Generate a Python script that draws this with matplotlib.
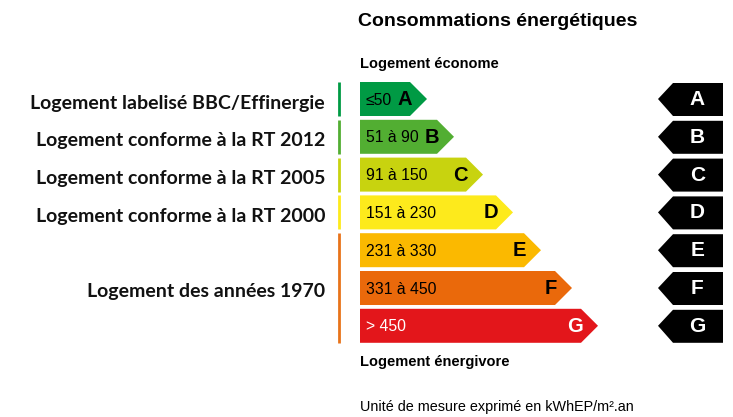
import numpy as np
from matplotlib import pyplot as plt
from matplotlib.patches import Polygon

# classes energetiques
classes = ["A", "B", "C", "D", "E", "F", "G"]
ranges = ["≤50", "51 à 90", "91 à 150", "151 à 230", "231 à 330", "331 à 450", "> 450"]
bar_len = [67, 94, 123, 153, 181, 212, 238]   # longueur des fleches (px)
colors = ["#009a44", "#52ae32", "#c8d30f", "#fdea1c", "#fbb900", "#ea690b", "#e3161b"]
text_colors = ["black"] * 6 + ["white"]

# labels a gauche : (texte, classe debut, classe fin)
groups = ["Logement labelisé BBC/Effinergie", "Logement conforme à la RT 2012",
          "Logement conforme à la RT 2005", "Logement conforme à la RT 2000",
          "Logement des années 1970"]
group_start = [0, 1, 2, 3, 4]
group_end = [0, 1, 2, 3, 6]
group_colors = ["#009a44", "#52ae32", "#c8d30f", "#fdea1c", "#e8731a"]

W, H = 733, 417
fig = plt.figure(figsize=(W / 100, H / 100), dpi=100)
ax = fig.add_axes([0, 0, 1, 1])
ax.set_xlim(0, W)
ax.set_ylim(H, 0)
ax.axis("off")

x0 = 360
top0 = 82
pitch = 37.8
bh = 34
tip = 17

for i, c in enumerate(classes):
    top = top0 + i * pitch
    bot = top + bh
    mid = (top + bot) / 2
    end = x0 + bar_len[i]
    poly = Polygon([(x0, top), (end - tip, top), (end, mid), (end - tip, bot), (x0, bot)],
                   closed=True, facecolor=colors[i], edgecolor="none")
    ax.add_patch(poly)
    ax.text(x0 + 6, mid + 1, ranges[i], fontsize=11.3, color=text_colors[i],
            family="Liberation Sans", va="center", ha="left")
    ax.text(end - tip + 2, mid + 0.5, c, fontsize=14.5, fontweight="bold", color=text_colors[i],
            family="Liberation Sans", va="center", ha="right")
    # fleche noire a droite
    rx0, rx1 = 673, 723
    bp = Polygon([(rx1, top + 1), (rx0, top + 1), (rx0 - 15, mid), (rx0, bot), (rx1, bot)],
                 closed=True, facecolor="black", edgecolor="none")
    ax.add_patch(bp)
    ax.text((rx0 + rx1) / 2 - 0.5, mid + 0.5, c, fontsize=15, fontweight="bold", color="white",
            family="Liberation Sans", va="center", ha="center")

for g, s, e, gc in zip(groups, group_start, group_end, group_colors):
    top = top0 + s * pitch
    bot = top0 + e * pitch + bh
    ax.plot([339, 339], [top, bot], color=gc, lw=2, solid_capstyle="butt")
    ax.text(325, (top + bot) / 2 + 4, g, fontsize=14, fontweight="bold", family="Lato",
            color="#111111", ha="right", va="center")

ax.text(358, 21, "Consommations énergétiques", fontsize=14, fontweight="bold",
        family="Liberation Sans", ha="left", va="center")
ax.text(360, 64, "Logement économe", fontsize=10.5, fontweight="bold",
        family="Liberation Sans", ha="left", va="center")
ax.text(360, 362, "Logement énergivore", fontsize=10.5, fontweight="bold",
        family="Liberation Sans", ha="left", va="center")
ax.text(360, 407, "Unité de mesure exprimé en kWhEP/m².an", fontsize=10.4,
        family="Liberation Sans", ha="left", va="center")

plt.savefig("out.png", dpi=100)
